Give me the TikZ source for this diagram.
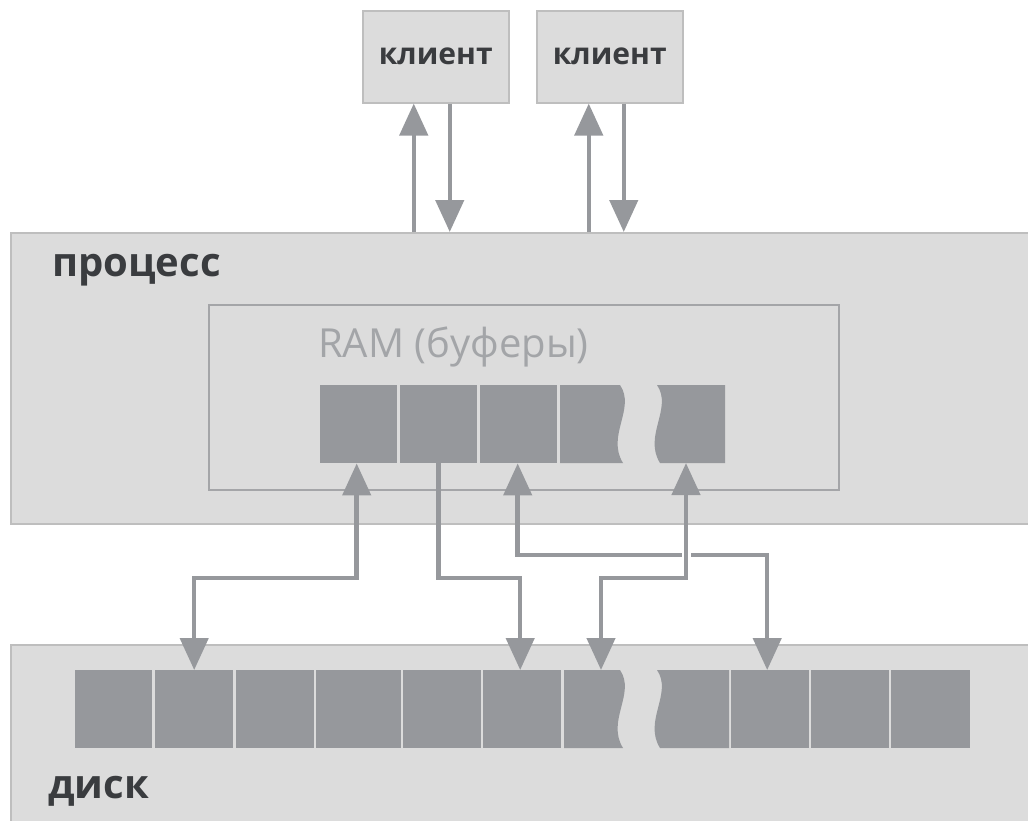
\documentclass[tikz,border=0pt]{standalone}
\usepackage{fontspec}
\setmainfont{Open Sans}
\usetikzlibrary{arrows.meta}
\definecolor{boxfill}{HTML}{DCDCDC}
\definecolor{boxline}{HTML}{BEBEBE}
\definecolor{blockc}{HTML}{96989C}
\definecolor{txt}{HTML}{3A3C3F}
\definecolor{ramline}{HTML}{A4A5A8}
\definecolor{ramtxt}{HTML}{A3A5A8}
\begin{document}
\begin{tikzpicture}[x=1pt,y=-1pt,
  panel/.style={fill=boxfill,draw=boxline,line width=1.5pt,inner sep=0pt},
  blk/.style={fill=blockc,draw=none,inner sep=0pt,minimum width=77pt,minimum height=78pt,anchor=north west},
  conn/.style={draw=blockc,line width=4.5pt},
  hd/.tip={Triangle[length=32pt,width=28pt]},
  lbl/.style={font=\bfseries\fontsize{40}{40}\selectfont,text=txt,inner sep=0pt,anchor=base west},
  cli/.style={panel,minimum width=146pt,minimum height=92pt,anchor=north west,
    font=\bfseries\fontsize{30}{30}\selectfont,text=txt}]
\clip (0,0) rectangle (1028,820);
% clients
\node[cli] (c1) at (362,10) {клиент};
\node[cli] (c2) at (536,10) {клиент};
% process panel
\node[panel,anchor=north west,minimum width=1040pt,minimum height=291pt] (proc) at (10,232) {};
\node[lbl] (proclbl) at (52,276) {процесс};
\node[draw=ramline,line width=1.5pt,anchor=north west,minimum width=630pt,minimum height=185pt,inner sep=0pt] (ram) at (208,304) {};
\node[inner sep=0pt,anchor=base west,text=ramtxt,font=\fontsize{40}{40}\selectfont] (ramlbl) at (318,357) {RAM (буферы)};
% RAM blocks
\node[blk] (r1) at (320,385) {};
\node[blk] (r2) at (400,385) {};
\node[blk] (r3) at (480,385) {};
\fill[blockc] (560,385) -- (620,385) .. controls (636,408.4) and (606,435.7) .. (623,463) -- (560,463) -- cycle;
\fill[blockc] (657,385) .. controls (673,408.4) and (643,435.7) .. (660,463) -- (725,463) -- (725,385) -- cycle;
\coordinate (r5) at (686,463);
% disk panel
\node[panel,anchor=north west,minimum width=1040pt,minimum height=190pt] (disk) at (10,644) {};
\node[lbl] (disklbl) at (48,798) {диск};
\node[blk] (d1) at (75,670) {};
\node[blk,minimum width=78pt] (d2) at (155,670) {};
\node[blk,minimum width=78pt] (d3) at (236,670) {};
\node[blk,minimum width=85pt] (d4) at (316,670) {};
\node[blk,minimum width=78pt] (d5) at (403,670) {};
\node[blk,minimum width=78pt] (d6) at (483,670) {};
\fill[blockc] (564,670) -- (620,670) .. controls (636,693.4) and (606,720.7) .. (623,748) -- (564,748) -- cycle;
\coordinate (d7) at (601,670);
\fill[blockc] (657,670) .. controls (673,693.4) and (643,720.7) .. (660,748) -- (729,748) -- (729,670) -- cycle;
\node[blk,minimum width=78pt] (d9) at (731,670) {};
\node[blk,minimum width=78pt] (d10) at (811,670) {};
\node[blk,minimum width=79pt] (d11) at (891,670) {};
% client arrows
\draw[conn,-hd] ([xshift=-22pt]c1.south |- proc.north) -- ([xshift=-22pt]c1.south);
\draw[conn,-hd] ([xshift=14pt]c1.south) -- ([xshift=14pt]c1.south |- proc.north);
\draw[conn,-hd] ([xshift=-21pt]c2.south |- proc.north) -- ([xshift=-21pt]c2.south);
\draw[conn,-hd] ([xshift=14pt]c2.south) -- ([xshift=14pt]c2.south |- proc.north);
% RAM <-> disk arrows
\coordinate (ya) at (0,578);
\coordinate (yc) at (0,555);
\coordinate (gapl) at (682,555);
\coordinate (gapr) at (691,555);
\draw[conn,hd-hd] ([xshift=-2pt]r1.south) |- ([xshift=-2pt]r1.south |- ya) -| (d2.north);
\draw[conn,-hd] (r2.south) |- (r2.south |- ya) -| ([xshift=-2pt]d6.north);
\draw[conn,hd-] ([xshift=-1pt]r3.south) |- (gapl);
\draw[conn,-hd] (gapr) -| ([xshift=-3pt]d9.north);
\draw[conn,hd-hd] (r5) |- (r5 |- ya) -| (d7);
\end{tikzpicture}
\end{document}
